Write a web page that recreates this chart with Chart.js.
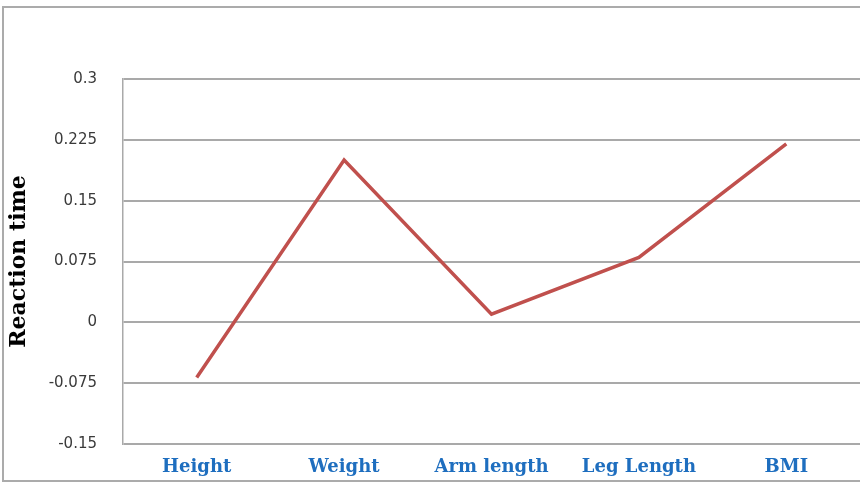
<!DOCTYPE html>
<html>
<head>
<meta charset="utf-8">
<script src="https://cdn.jsdelivr.net/npm/chart.js@4/dist/chart.umd.min.js"></script>
<style>
  html, body { margin: 0; padding: 0; background: #ffffff; }
  #wrap { position: relative; width: 860px; height: 482px; overflow: hidden; }
  #frame {
    position: absolute; left: 2px; top: 6px; width: 900px; height: 476px;
    border: 2px solid #ababab; box-sizing: border-box; pointer-events: none;
  }
  canvas { position: absolute; left: 0; top: 0; }
</style>
</head>
<body>
<div id="wrap">
  <canvas id="chart" width="860" height="482"></canvas>
  <div id="frame"></div>
</div>
<script>
// Body measures compared against reaction time
const categories = ['Height', 'Weight', 'Arm length', 'Leg Length', 'BMI'];
const reactionTime = [-0.068, 0.2, 0.01, 0.08, 0.22];
const yTickValues = [-0.15, -0.075, 0, 0.075, 0.15, 0.225, 0.3];
const yTickLabels = ['-0.15', '-0.075', '0', '0.075', '0.15', '0.225', '0.3'];

new Chart(document.getElementById('chart'), {
  type: 'line',
  data: {
    labels: categories,
    datasets: [{
      label: 'Reaction time',
      data: reactionTime,
      borderColor: '#c0504d',
      backgroundColor: '#c0504d',
      borderWidth: 3.5,
      pointRadius: 0,
      tension: 0,
      fill: false
    }]
  },
  options: {
    responsive: false,
    animation: false,
    layout: { padding: { left: 0, right: 0, top: 79, bottom: 0 } },
    plugins: { legend: { display: false }, tooltip: { enabled: false } },
    scales: {
      x: {
        offset: true,
        grid: { display: false, drawTicks: false },
        border: { display: false },
        ticks: {
          padding: 13,
          color: '#1e6ebf',
          font: { family: 'DejaVu Serif', size: 18, weight: 'bold' },
          maxRotation: 0
        },
        afterFit: (s) => { s.height = 38; }
      },
      y: {
        min: -0.15,
        max: 0.3,
        afterBuildTicks: (s) => { s.ticks = yTickValues.map(v => ({ value: v })); },
        grid: { color: '#a9a9a9', lineWidth: 2, drawTicks: false },
        border: { display: true, color: '#a9a9a9', width: 1.5 },
        ticks: {
          padding: 26,
          color: '#3a3a3a',
          font: { family: 'DejaVu Sans', size: 15 },
          callback: (v) => yTickLabels[yTickValues.findIndex(t => Math.abs(t - v) < 1e-9)]
        },
        title: {
          display: true,
          text: 'Reaction time',
          color: '#000000',
          padding: { top: 6, bottom: 0 },
          font: { family: 'DejaVu Serif', size: 22, weight: 'bold' }
        },
        afterFit: (s) => { s.width = 123; }
      }
    }
  }
});
</script>
</body>
</html>
